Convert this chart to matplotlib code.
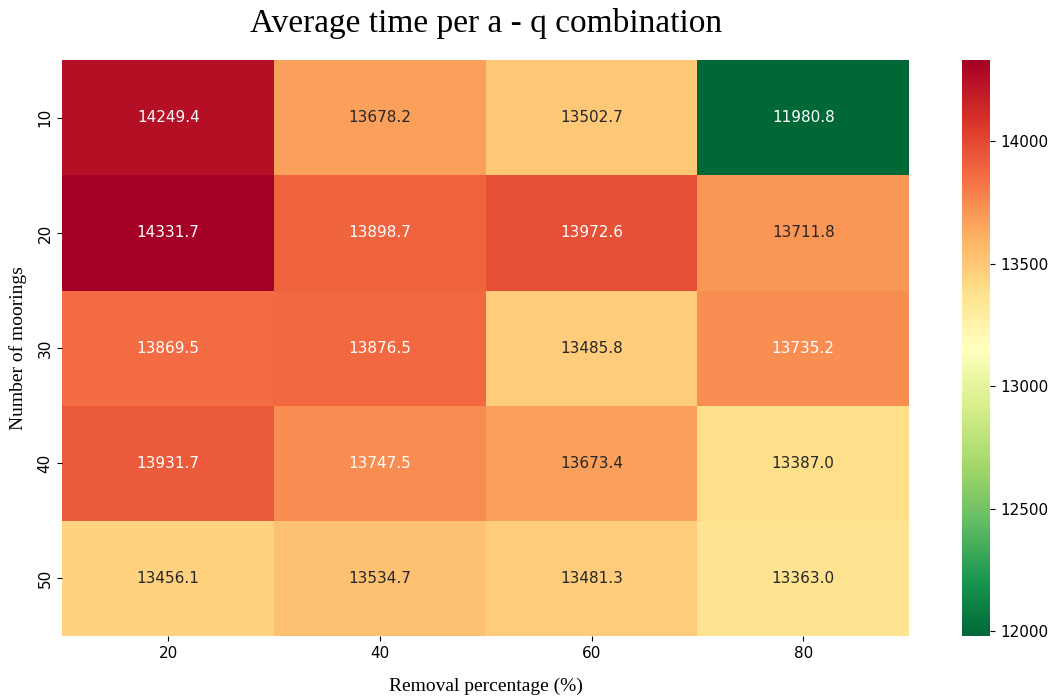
import numpy as np
import matplotlib
matplotlib.use('Agg')
import matplotlib.pyplot as plt
import seaborn as sns

# Data
moorings = [10, 20, 30, 40, 50]
removal = [20, 40, 60, 80]
avg_time = np.array([
    [14249.4, 13678.2, 13502.7, 11980.8],
    [14331.7, 13898.7, 13972.6, 13711.8],
    [13869.5, 13876.5, 13485.8, 13735.2],
    [13931.7, 13747.5, 13673.4, 13387.0],
    [13456.1, 13534.7, 13481.3, 13363.0],
])

plt.rcParams['font.family'] = ['DejaVu Sans']

fig = plt.figure(figsize=(10.57, 6.99), dpi=100)
ax = fig.add_axes([0.059, 0.09, 0.801, 0.824])
cax = fig.add_axes([0.910, 0.09, 0.027, 0.824])

sns.heatmap(avg_time, annot=False, cmap='RdYlGn_r',
            xticklabels=removal, yticklabels=moorings,
            ax=ax, cbar_ax=cax)

# annotations: light text on dark cells, dark text on light cells
for i in range(avg_time.shape[0]):
    for j in range(avg_time.shape[1]):
        v = avg_time[i, j]
        col = 'white' if (v > 13720 or v < 12300) else '#262626'
        ax.text(j + 0.5, i + 0.5, '%.1f' % v, ha='center', va='center',
                color=col, fontsize=11, family='DejaVu Sans')

ax.set_title('Average time per a - q combination', fontsize=24,
             family='Liberation Serif', pad=20)
ax.set_xlabel('Removal percentage (%)', fontsize=14, family='Liberation Serif', labelpad=12)
ax.set_ylabel('Number of moorings', fontsize=14, family='Liberation Serif', labelpad=8)
ax.tick_params(labelsize=11)
cax.tick_params(labelsize=11)

plt.savefig('out.png', dpi=100)
